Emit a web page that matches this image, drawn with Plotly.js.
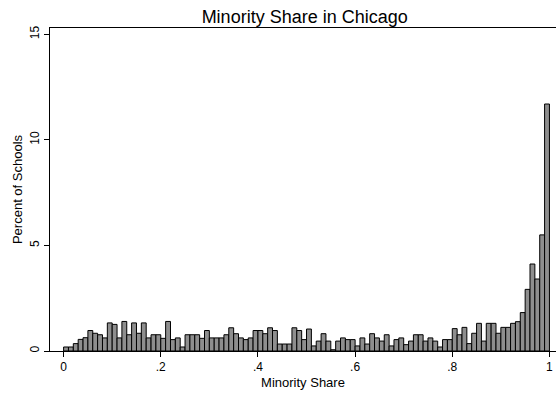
<!DOCTYPE html>
<html>
<head>
<meta charset="utf-8">
<script src="https://cdn.plot.ly/plotly-3.0.1.min.js"></script>
<style>
  html, body { margin: 0; padding: 0; background: #ffffff; }
  #chart { width: 556px; height: 395px; }
</style>
</head>
<body>
<div id="chart"></div>
<script>
// Histogram of minority share: 100 bins of width 0.01 starting at 0
const binStart = 0;
const binWidth = 0.01;

// Percent of schools in each bin
const percentOfSchools = [
  0.19, 0.19, 0.35, 0.55, 0.63, 0.97, 0.84, 0.77, 0.62, 1.33,
  1.26, 0.62, 1.40, 0.77, 1.33, 0.84, 1.33, 0.62, 0.77, 0.77,
  0.60, 1.40, 0.54, 0.62, 0.19, 0.77, 0.77, 0.77, 0.60, 0.97,
  0.62, 0.62, 0.62, 0.77, 1.10, 0.82, 0.62, 0.54, 0.62, 0.97,
  0.97, 0.82, 1.10, 0.97, 0.33, 0.33, 0.33, 1.10, 0.97, 0.54,
  1.04, 0.24, 0.47, 0.82, 0.47, 0.06, 0.47, 0.62, 0.54, 0.54,
  0.24, 0.62, 0.33, 0.82, 0.62, 0.47, 0.77, 0.24, 0.54, 0.62,
  0.30, 0.47, 0.77, 0.77, 0.47, 0.62, 0.47, 0.19, 0.54, 0.54,
  1.06, 0.77, 1.12, 0.35, 0.84, 1.31, 0.47, 1.31, 1.31, 0.84,
  1.12, 1.12, 1.31, 1.39, 1.82, 2.92, 4.12, 3.41, 5.50, 11.70
];

const xTickVals = [0, 0.2, 0.4, 0.6, 0.8, 1];
const xTickText = ['0', '.2', '.4', '.6', '.8', '1'];
const yTickVals = [0, 5, 10, 15];
const yTickText = ['0', '5', '10', '15'];

const binCenters = percentOfSchools.map((_, i) => binStart + (i + 0.5) * binWidth);

const font = 'Liberation Sans, Arial, Helvetica, sans-serif';

const trace = {
  type: 'bar',
  x: binCenters,
  y: percentOfSchools,
  width: binWidth,
  marker: {
    color: '#8e8e8e',
    line: { color: '#000000', width: 1 }
  },
  hoverinfo: 'x+y'
};

const layout = {
  width: 556,
  height: 395,
  margin: { l: 50, r: 0, t: 28, b: 44 },
  paper_bgcolor: '#ffffff',
  plot_bgcolor: '#ffffff',
  showlegend: false,
  bargap: 0,
  font: { family: font, color: '#000000', size: 12 },
  title: {
    text: 'Minority Share in Chicago',
    font: { family: font, size: 18, color: '#000000' },
    x: 0.548, xanchor: 'center',
    y: 0.958, yanchor: 'middle'
  },
  xaxis: {
    range: [-0.028, 1.0135],
    tickvals: xTickVals,
    ticktext: xTickText,
    ticks: 'outside',
    ticklen: 5,
    tickwidth: 1,
    tickcolor: '#000000',
    showline: true,
    linecolor: '#000000',
    linewidth: 1,
    mirror: true,
    showgrid: false,
    zeroline: false,
    tickfont: { family: font, size: 12 },
    title: { text: 'Minority Share', font: { family: font, size: 13 }, standoff: 4 }
  },
  yaxis: {
    range: [0, 15.3],
    tickvals: yTickVals,
    ticktext: yTickText,
    tickangle: -90,
    ticks: 'outside',
    ticklen: 5,
    tickwidth: 1,
    tickcolor: '#000000',
    showline: true,
    linecolor: '#000000',
    linewidth: 1,
    showgrid: false,
    zeroline: false,
    tickfont: { family: font, size: 12 },
    title: { text: 'Percent of Schools', font: { family: font, size: 13 }, standoff: 2 }
  }
};

Plotly.newPlot('chart', [trace], layout, { staticPlot: true, displayModeBar: false });
</script>
</body>
</html>
